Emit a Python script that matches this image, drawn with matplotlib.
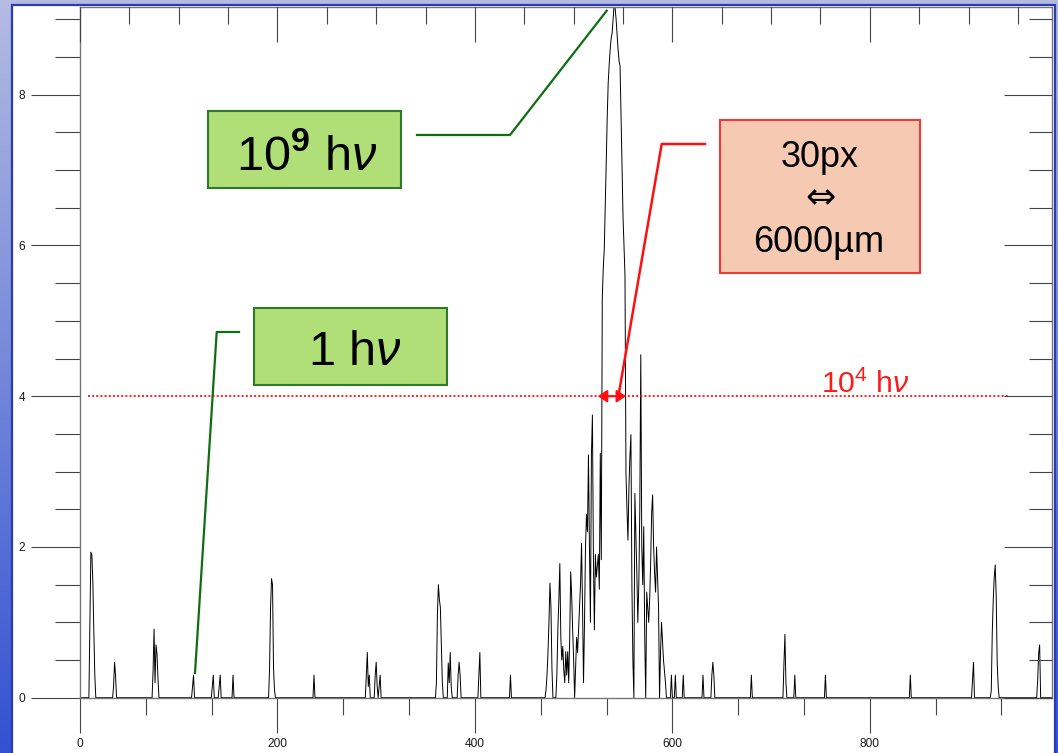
import numpy as np
import matplotlib
matplotlib.use("Agg")
import matplotlib.pyplot as plt
from matplotlib.patches import Rectangle, FancyArrowPatch
from matplotlib.ticker import MultipleLocator

plt.rcParams['font.family'] = ['Liberation Sans', 'DejaVu Sans']
plt.rcParams['mathtext.fontset'] = 'custom'
plt.rcParams['mathtext.rm'] = 'Liberation Sans'
plt.rcParams['mathtext.it'] = 'Liberation Sans:italic'
plt.rcParams['mathtext.bf'] = 'Liberation Sans:bold'

# ---------------- data ----------------
n_bins = 985
spike_bins = [10, 11, 12, 13, 14, 15,
              34, 35, 36,
              74, 75, 76, 77, 78, 79,
              114, 115, 134, 135, 141, 142, 155,
              192, 193, 194, 195, 196, 197,
              237,
              290, 291, 292, 293, 299, 300, 301, 303, 304,
              361, 362, 363, 364, 365, 366, 367,
              373, 374, 375, 376, 383, 384, 385,
              404, 405, 436,
              599, 603, 611, 631, 640, 641, 642, 680,
              713, 714, 715, 724, 755, 841, 904, 905,
              923, 924, 925, 926, 927, 928, 929, 930,
              970, 971, 972]
spike_values = [0.97, 1.93, 1.9, 1.54, 0.88, 0.3,
                0.15, 0.47, 0.3,
                0.35, 0.91, 0.2, 0.7, 0.58, 0.25,
                0.15, 0.3, 0.15, 0.3, 0.15, 0.3, 0.3,
                0.39, 1.19, 1.58, 1.5, 0.4, 0.1,
                0.3,
                0.3, 0.6, 0.15, 0.3, 0.3, 0.47, 0.15, 0.15, 0.3,
                0.2, 1.1, 1.5, 1.3, 1.2, 0.7, 0.2,
                0.46, 0.2, 0.6, 0.15, 0.3, 0.47, 0.3,
                0.3, 0.6, 0.3,
                0.3, 0.3, 0.3, 0.3, 0.3, 0.47, 0.3, 0.3,
                0.45, 0.84, 0.2, 0.3, 0.3, 0.3, 0.24, 0.47,
                0.1, 0.86, 1.3, 1.6, 1.76, 1.34, 0.46, 0.15,
                0.24, 0.59, 0.7]
cluster_first_bin = 472
cluster_values = [0.1, 0.3, 0.6, 1.0, 1.52, 1.21, 0.4, 0.0,          # 472-479
                  0.0, 0.0, 0.0, 0.3, 0.9, 1.3, 1.78, 0.8,           # 480-487
                  0.5, 0.68, 0.37, 0.2, 0.61, 0.3, 0.61, 0.2,        # 488-495
                  0.8, 1.67, 1.36, 0.9, 0.5, 0.0, 0.4, 0.8,          # 496-503
                  0.6, 0.9, 1.2, 1.52, 2.05, 1.2, 0.2, 1.0,          # 504-511
                  2.0, 2.43, 2.2, 3.22, 2.0, 1.0, 3.22, 3.75,        # 512-519
                  1.9, 0.9, 1.9, 1.6, 1.75, 1.9, 1.44, 3.24,         # 520-527
                  1.83, 5.3, 5.7, 5.95, 6.5, 7.1, 7.7, 8.16,         # 528-535
                  8.4, 8.6, 8.75, 8.82, 9.0, 9.2, 9.15, 9.0,         # 536-543
                  8.8, 8.6, 8.45, 8.38, 7.7, 7.0, 6.39, 6.0,         # 544-551
                  5.6, 2.98, 2.5, 2.09, 2.8, 3.2, 3.49, 1.5,         # 552-559
                  0.5, 0.0, 2.71, 2.2, 1.65, 1.0, 1.5, 2.5,          # 560-567
                  4.55, 2.0, 1.5, 2.27, 0.8, 0.0, 1.4, 1.2,          # 568-575
                  1.0, 1.3, 1.8, 2.45, 2.69, 2.0, 1.65, 1.4,         # 576-583
                  2.0, 1.6, 1.2, 0.0, 0.6, 1.0, 0.75, 0.5,           # 584-591
                  0.35, 0.2, 0.0]                                    # 592-594

x_ticks = [0, 200, 400, 600, 800]
y_ticks = [0, 2, 4, 6, 8]
x_range = (0, 984)
y_range = (0, 9.17)
threshold = 4
threshold_span = (8, 940)
fwhm_span = (524.5, 553.0)

counts = np.zeros(n_bins)
counts[spike_bins] = spike_values
counts[cluster_first_bin:cluster_first_bin + len(cluster_values)] = cluster_values
bins = np.arange(n_bins)

# ---------------- figure ----------------
W, H = 1058, 753
fig = plt.figure(figsize=(W / 100, H / 100), dpi=100)

# slide background
bg = fig.add_axes([0, 0, 1, 1], zorder=0)
bg.set_xlim(0, W)
bg.set_ylim(H, 0)
bg.axis('off')
t = np.linspace(0, 1, 256).reshape(-1, 1, 1)
top_c = np.array([180, 188, 226]) / 255.0
bot_c = np.array([50, 82, 210]) / 255.0
grad = top_c * (1 - t) + bot_c * t
bg.imshow(grad, extent=[0, W, H, 0], aspect='auto')
bg.add_patch(Rectangle((11.5, 4.5), 1043.5, 760, facecolor='white',
                       edgecolor='#2c3cb0', lw=1.6))

# main axes
L, R, T, B = 80, 1051.5, 6.5, 697.7
ax = fig.add_axes([L / W, 1 - B / H, (R - L) / W, (B - T) / H], zorder=2)
ax.patch.set_alpha(0)
ax.plot(bins, counts, color='black', lw=0.7)
ax.set_xlim(*x_range)
ax.set_ylim(*y_range)

tick_c = '#444444'
for s in ax.spines.values():
    s.set_color('#777777')
    s.set_linewidth(1.0)

ax.set_xticks(x_ticks)
ax.xaxis.set_minor_locator(MultipleLocator(200 / 3))
ax.set_yticks(y_ticks)
ax.yaxis.set_minor_locator(MultipleLocator(0.5))
ax.tick_params(axis='x', which='major', direction='out', length=25.4, width=0.8,
               color=tick_c, pad=3.4, labelsize=8.6, labelcolor='#1a1a1a')
ax.tick_params(axis='x', which='minor', direction='out', length=12.5, width=0.8, color=tick_c)
ax.tick_params(axis='y', which='major', direction='out', length=35.3, width=0.8,
               color=tick_c, pad=4.3, labelsize=8.6, labelcolor='#1a1a1a')
ax.tick_params(axis='y', which='minor', direction='out', length=18, width=0.8, color=tick_c)

# top ticks (inside)
axt = ax.twiny()
axt.set_xlim(*x_range)
axt.set_xticks(x_ticks)
axt.xaxis.set_minor_locator(MultipleLocator(50))
axt.tick_params(axis='x', which='major', direction='in', length=25, width=0.8,
                color=tick_c, labeltop=False, top=True)
axt.tick_params(axis='x', which='minor', direction='in', length=12.2, width=0.8, color=tick_c)
for s in axt.spines.values():
    s.set_visible(False)

# right ticks (inside)
axr = ax.twinx()
axr.set_ylim(*y_range)
axr.set_yticks(y_ticks)
axr.yaxis.set_minor_locator(MultipleLocator(0.5))
axr.tick_params(axis='y', which='major', direction='in', length=34.6, width=0.8,
                color=tick_c, labelright=False, right=True)
axr.tick_params(axis='y', which='minor', direction='in', length=16.6, width=0.8, color=tick_c)
for s in axr.spines.values():
    s.set_visible(False)

# threshold line and width arrow
ax.plot(threshold_span, [threshold, threshold], color='#ff1010', lw=1.3,
        linestyle=(0, (1.1, 1.2)), clip_on=False, zorder=3)
arrow = FancyArrowPatch((fwhm_span[0], threshold), (fwhm_span[1], threshold),
                        arrowstyle='<|-|>,head_length=3.4,head_width=2.3',
                        mutation_scale=1.6, color='#ff1010', lw=1.5,
                        shrinkA=0, shrinkB=0, zorder=6)
axr.add_patch(arrow)

# ---------------- annotations overlay (pixel coords) ----------------
ov = fig.add_axes([0, 0, 1, 1], zorder=10)
ov.set_xlim(0, W)
ov.set_ylim(H, 0)
ov.axis('off')
ov.patch.set_visible(False)

green_fill = '#b0df78'
green_edge = '#2e7a2a'
green_line = '#0f6e12'

ov.add_patch(Rectangle((208.3, 111), 192.7, 76.7, facecolor=green_fill,
                       edgecolor=green_edge, lw=1.5))
ov.text(307, 170, r'$10^{\mathbf{9}}$ h$\nu$', fontsize=35, ha='center', va='baseline',
        color='black')
ov.plot([417, 510, 606.7], [135, 135, 10.7], color=green_line, lw=1.6)

ov.add_patch(Rectangle((254, 307.7), 192.7, 77.3, facecolor=green_fill,
                       edgecolor=green_edge, lw=1.5))
ov.text(355, 365, r'1 h$\nu$', fontsize=35, ha='center', va='baseline', color='black')
ov.plot([239, 216.7, 195], [332, 332, 673], color=green_line, lw=1.6)

ov.add_patch(Rectangle((720, 120), 200, 152.7, facecolor='#f6cab2',
                       edgecolor='#f03a3a', lw=1.5))
ov.text(820, 166.7, '30px', fontsize=26, ha='center', va='baseline', color='black')
ov.text(820, 198, '\u21d4', fontsize=26, ha='center', va='center', color='black',
        family=['DejaVu Sans'])
ov.text(819, 251.7, '6000\u00b5m', fontsize=26, ha='center', va='baseline', color='black')
ov.plot([705, 661.7, 618.3], [144, 144, 396.7], color='#ff1010', lw=1.8)

ov.text(865, 393.3, r'$10^{4}$ h$\nu$', fontsize=21.8, ha='center', va='baseline',
        color='#ff1a1a')

fig.savefig('out.png', dpi=100)
